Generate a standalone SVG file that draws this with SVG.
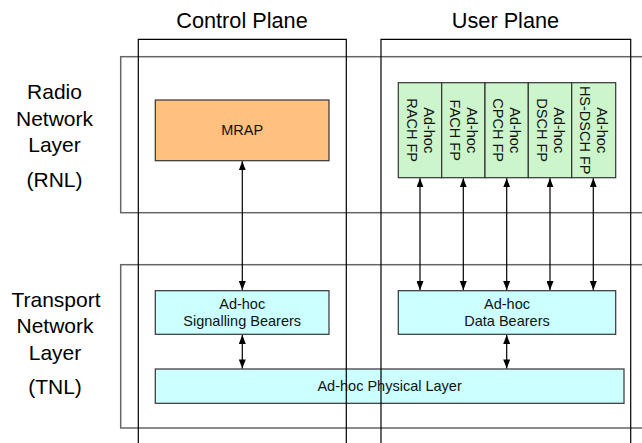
<svg xmlns="http://www.w3.org/2000/svg" width="642" height="443" viewBox="0 0 642 443">
<style>
  .head { font-family: "Liberation Sans", Arial, sans-serif; font-size: 21.7px; fill: #000; text-anchor: middle; }
  .side { font-family: "Liberation Sans", Arial, sans-serif; font-size: 21px; fill: #000; text-anchor: middle; }
  .lbl { font-family: "Liberation Sans", Arial, sans-serif; font-size: 14.5px; fill: #111; text-anchor: middle; }
  .layer { fill: none; stroke: #666; stroke-width: 1.5; }
  .col { fill: none; stroke: #000; stroke-width: 1.2; }
  .box { stroke: #333; stroke-width: 1.2; }
  .orange { fill: #FFC080; }
  .green { fill: #CCF5CC; }
  .cyan { fill: #CCFFFF; }
  .conn line { stroke: #000; stroke-width: 1.2; marker-start: url(#ah); marker-end: url(#ah); }
</style>
<defs>
  <marker id="ah" markerUnits="userSpaceOnUse" markerWidth="9" markerHeight="7" refX="9" refY="3.5" orient="auto-start-reverse">
    <path d="M0,0 L9,3.5 L0,7 z" fill="#000"/>
  </marker>
</defs>
<rect width="642" height="443" fill="#fff"/>

<g id="rnl-layer">
  <rect class="layer" x="120.7" y="56.7" width="560" height="156"/>
  <text class="side" x="54.5" y="99">Radio</text>
  <text class="side" x="54.5" y="125.7">Network</text>
  <text class="side" x="54.5" y="152">Layer</text>
  <text class="side" x="54.5" y="186.5">(RNL)</text>
</g>
<g id="tnl-layer">
  <rect class="layer" x="120.7" y="264.7" width="560" height="163.3"/>
  <text class="side" x="56" y="307">Transport</text>
  <text class="side" x="55" y="333.3">Network</text>
  <text class="side" x="55" y="360">Layer</text>
  <text class="side" x="55" y="394">(TNL)</text>
</g>

<g id="mrap">
  <rect class="box orange" x="155.3" y="100" width="173.7" height="60.7"/>
  <text class="lbl" x="242.2" y="135.4">MRAP</text>
</g>

<g id="fp-rach">
  <rect class="box green" x="398.3" y="82.7" width="43.4" height="95"/>
  <text class="lbl" transform="translate(420,130.2) rotate(90)"><tspan x="0" y="-3.5">Ad-hoc</tspan><tspan x="0" y="13.5">RACH FP</tspan></text>
</g>
<g id="fp-fach">
  <rect class="box green" x="441.7" y="82.7" width="43.3" height="95"/>
  <text class="lbl" transform="translate(463.3,130.2) rotate(90)"><tspan x="0" y="-3.5">Ad-hoc</tspan><tspan x="0" y="13.5">FACH FP</tspan></text>
</g>
<g id="fp-cpch">
  <rect class="box green" x="485" y="82.7" width="43.3" height="95"/>
  <text class="lbl" transform="translate(506.7,130.2) rotate(90)"><tspan x="0" y="-3.5">Ad-hoc</tspan><tspan x="0" y="13.5">CPCH FP</tspan></text>
</g>
<g id="fp-dsch">
  <rect class="box green" x="528.3" y="82.7" width="43.4" height="95"/>
  <text class="lbl" transform="translate(550,130.2) rotate(90)"><tspan x="0" y="-3.5">Ad-hoc</tspan><tspan x="0" y="13.5">DSCH FP</tspan></text>
</g>
<g id="fp-hsdsch">
  <rect class="box green" x="571.7" y="82.7" width="44" height="95"/>
  <text class="lbl" transform="translate(593.5,130.2) rotate(90)"><tspan x="0" y="-3.5">Ad-hoc</tspan><tspan x="0" y="13.5">HS-DSCH FP</tspan></text>
</g>

<g id="signalling-bearers">
  <rect class="box cyan" x="155.3" y="290.7" width="173.7" height="43.6"/>
  <text class="lbl" x="242.2" y="308.7">Ad-hoc</text>
  <text class="lbl" x="242.2" y="325.7">Signalling Bearers</text>
</g>
<g id="data-bearers">
  <rect class="box cyan" x="398.3" y="290.7" width="217.4" height="43.6"/>
  <text class="lbl" x="507" y="308.7">Ad-hoc</text>
  <text class="lbl" x="507" y="325.7">Data Bearers</text>
</g>
<g id="physical-layer">
  <rect class="box cyan" x="155.3" y="369" width="468.7" height="34.3"/>
  <text class="lbl" x="389.6" y="391.3">Ad-hoc Physical Layer</text>
</g>

<g id="control-plane">
  <path class="col" d="M138.3,443 V39.3 H346.3 V443"/>
  <text class="head" x="242" y="28.3">Control Plane</text>
</g>
<g id="user-plane">
  <path class="col" d="M381,443 V39.3 H630.7 V443"/>
  <text class="head" x="505.5" y="28.3">User Plane</text>
</g>

<g id="connectors" class="conn">
  <line x1="242.3" y1="161.3" x2="242.3" y2="290.1"/>
  <line x1="242.3" y1="334.9" x2="242.3" y2="368.4"/>
  <line x1="420" y1="178.3" x2="420" y2="290.1"/>
  <line x1="463.3" y1="178.3" x2="463.3" y2="290.1"/>
  <line x1="506.7" y1="178.3" x2="506.7" y2="290.1"/>
  <line x1="550" y1="178.3" x2="550" y2="290.1"/>
  <line x1="593.3" y1="178.3" x2="593.3" y2="290.1"/>
  <line x1="506.7" y1="334.9" x2="506.7" y2="368.4"/>
</g>
</svg>
